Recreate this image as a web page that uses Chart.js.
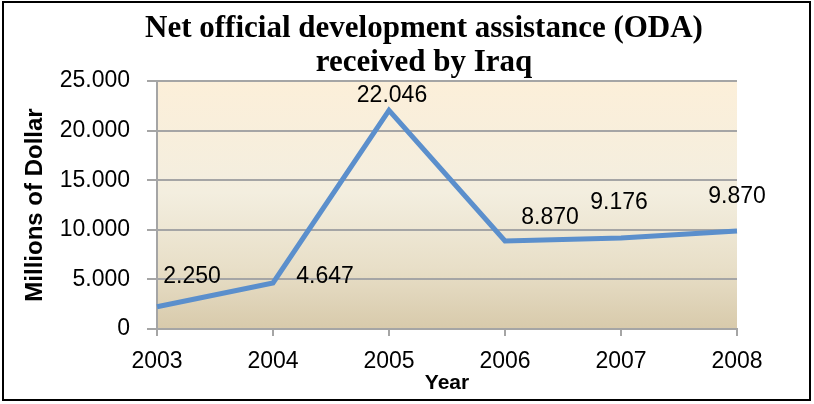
<!DOCTYPE html>
<html>
<head>
<meta charset="utf-8">
<script src="https://cdn.jsdelivr.net/npm/chart.js@4/dist/chart.umd.min.js"></script>
<style>
  html, body { margin: 0; padding: 0; background: #ffffff; }
  #wrap { width: 814px; height: 404px; position: relative; }
</style>
</head>
<body>
<div id="wrap"><canvas id="c" width="814" height="404"></canvas></div>
<script>
// ---- data ----
const TITLE_LINES = ['Net official development assistance (ODA)', 'received by Iraq'];
const YEARS = ['2003', '2004', '2005', '2006', '2007', '2008'];
const ODA_VALUES = [2250, 4647, 22046, 8870, 9176, 9870];
const Y_TICKS = [0, 5000, 10000, 15000, 20000, 25000];
const X_TITLE = 'Year';
const Y_TITLE = 'Millions of Dollar';

// ---- label placement (pixels relative to each point) ----
const LABEL_OFFSETS = [[35, -30], [52, -6], [3, -15], [45, -23], [-2, -35], [0, -34]];

function fmt(v) {
  return String(v).replace(/\B(?=(\d{3})+(?!\d))/g, '.');
}

const TICK_FONT = { family: "'Liberation Sans', Arial, sans-serif", size: 23 };

const plotBackground = {
  id: 'plotBackground',
  beforeDraw(chart) {
    const { ctx, chartArea: a } = chart;
    ctx.save();
    ctx.fillStyle = '#ffffff';
    ctx.fillRect(0, 0, chart.width, chart.height);
    const g = ctx.createLinearGradient(0, a.top, 0, a.bottom);
    g.addColorStop(0, '#fcefd9');
    g.addColorStop(0.45, '#f3eedf');
    g.addColorStop(0.75, '#e8dfc8');
    g.addColorStop(1, '#d8caab');
    ctx.fillStyle = g;
    ctx.fillRect(a.left, a.top, a.right - a.left, a.bottom - a.top);
    ctx.restore();
  },
  afterDraw(chart) {
    const { ctx } = chart;
    ctx.save();
    ctx.strokeStyle = '#000000';
    ctx.lineWidth = 2;
    ctx.strokeRect(3, 2, 807, 398);
    // title
    ctx.fillStyle = '#000000';
    ctx.textAlign = 'center';
    ctx.textBaseline = 'middle';
    ctx.font = "bold 31px 'Liberation Serif', 'Times New Roman', serif";
    ctx.fillText(TITLE_LINES[0], 424, 29);
    ctx.fillText(TITLE_LINES[1], 424, 63);
    ctx.restore();
  }
};

const dataLabels = {
  id: 'dataLabels',
  afterDatasetsDraw(chart) {
    const { ctx } = chart;
    const meta = chart.getDatasetMeta(0);
    ctx.save();
    ctx.fillStyle = '#000000';
    ctx.textAlign = 'center';
    ctx.textBaseline = 'middle';
    ctx.font = TICK_FONT.size + "px " + TICK_FONT.family;
    meta.data.forEach((pt, i) => {
      const off = LABEL_OFFSETS[i];
      ctx.fillText(fmt(ODA_VALUES[i]), pt.x + off[0], pt.y + off[1]);
    });
    ctx.restore();
  }
};

new Chart(document.getElementById('c'), {
  type: 'line',
  data: {
    labels: YEARS,
    datasets: [{
      label: 'ODA',
      data: ODA_VALUES,
      borderColor: '#5b8fcc',
      borderWidth: 5,
      borderJoinStyle: 'miter',
      borderCapStyle: 'butt',
      pointRadius: 0,
      pointHoverRadius: 0,
      tension: 0,
      fill: false
    }]
  },
  options: {
    responsive: false,
    animation: false,
    events: [],
    layout: { padding: { top: 81, right: 77, bottom: 0, left: 0 } },
    plugins: {
      legend: { display: false },
      title: { display: false },
      tooltip: { enabled: false }
    },
    scales: {
      x: {
        offset: false,
        grid: { display: true, drawOnChartArea: false, drawTicks: true, tickLength: 7, color: '#a5a5a5', lineWidth: 2 },
        border: { display: true, color: '#a5a5a5', width: 2 },
        ticks: { color: '#000000', font: TICK_FONT, padding: 12, maxRotation: 0, autoSkip: false },
        title: {
          display: true, text: X_TITLE, color: '#000000',
          font: { family: "'Liberation Sans', Arial, sans-serif", size: 21, weight: 'bold' },
          padding: { top: 0, bottom: 8 }
        },
        afterFit(scale) { scale.height = 75; }
      },
      y: {
        min: 0, max: 25000,
        afterBuildTicks(scale) { scale.ticks = Y_TICKS.map(v => ({ value: v })); },
        grid: { display: true, drawOnChartArea: true, drawTicks: true, tickLength: 10, color: '#a5a5a5', lineWidth: 2 },
        border: { display: true, color: '#a5a5a5', width: 2 },
        ticks: { color: '#000000', font: TICK_FONT, padding: 17, callback: (v) => fmt(v) },
        title: {
          display: true, text: Y_TITLE, color: '#000000',
          font: { family: "'Liberation Sans', Arial, sans-serif", size: 24, weight: 'bold' },
          padding: { top: 21, bottom: 0 }
        },
        afterFit(scale) { scale.width = 157; }
      }
    }
  },
  plugins: [plotBackground, dataLabels]
});
</script>
</body>
</html>
